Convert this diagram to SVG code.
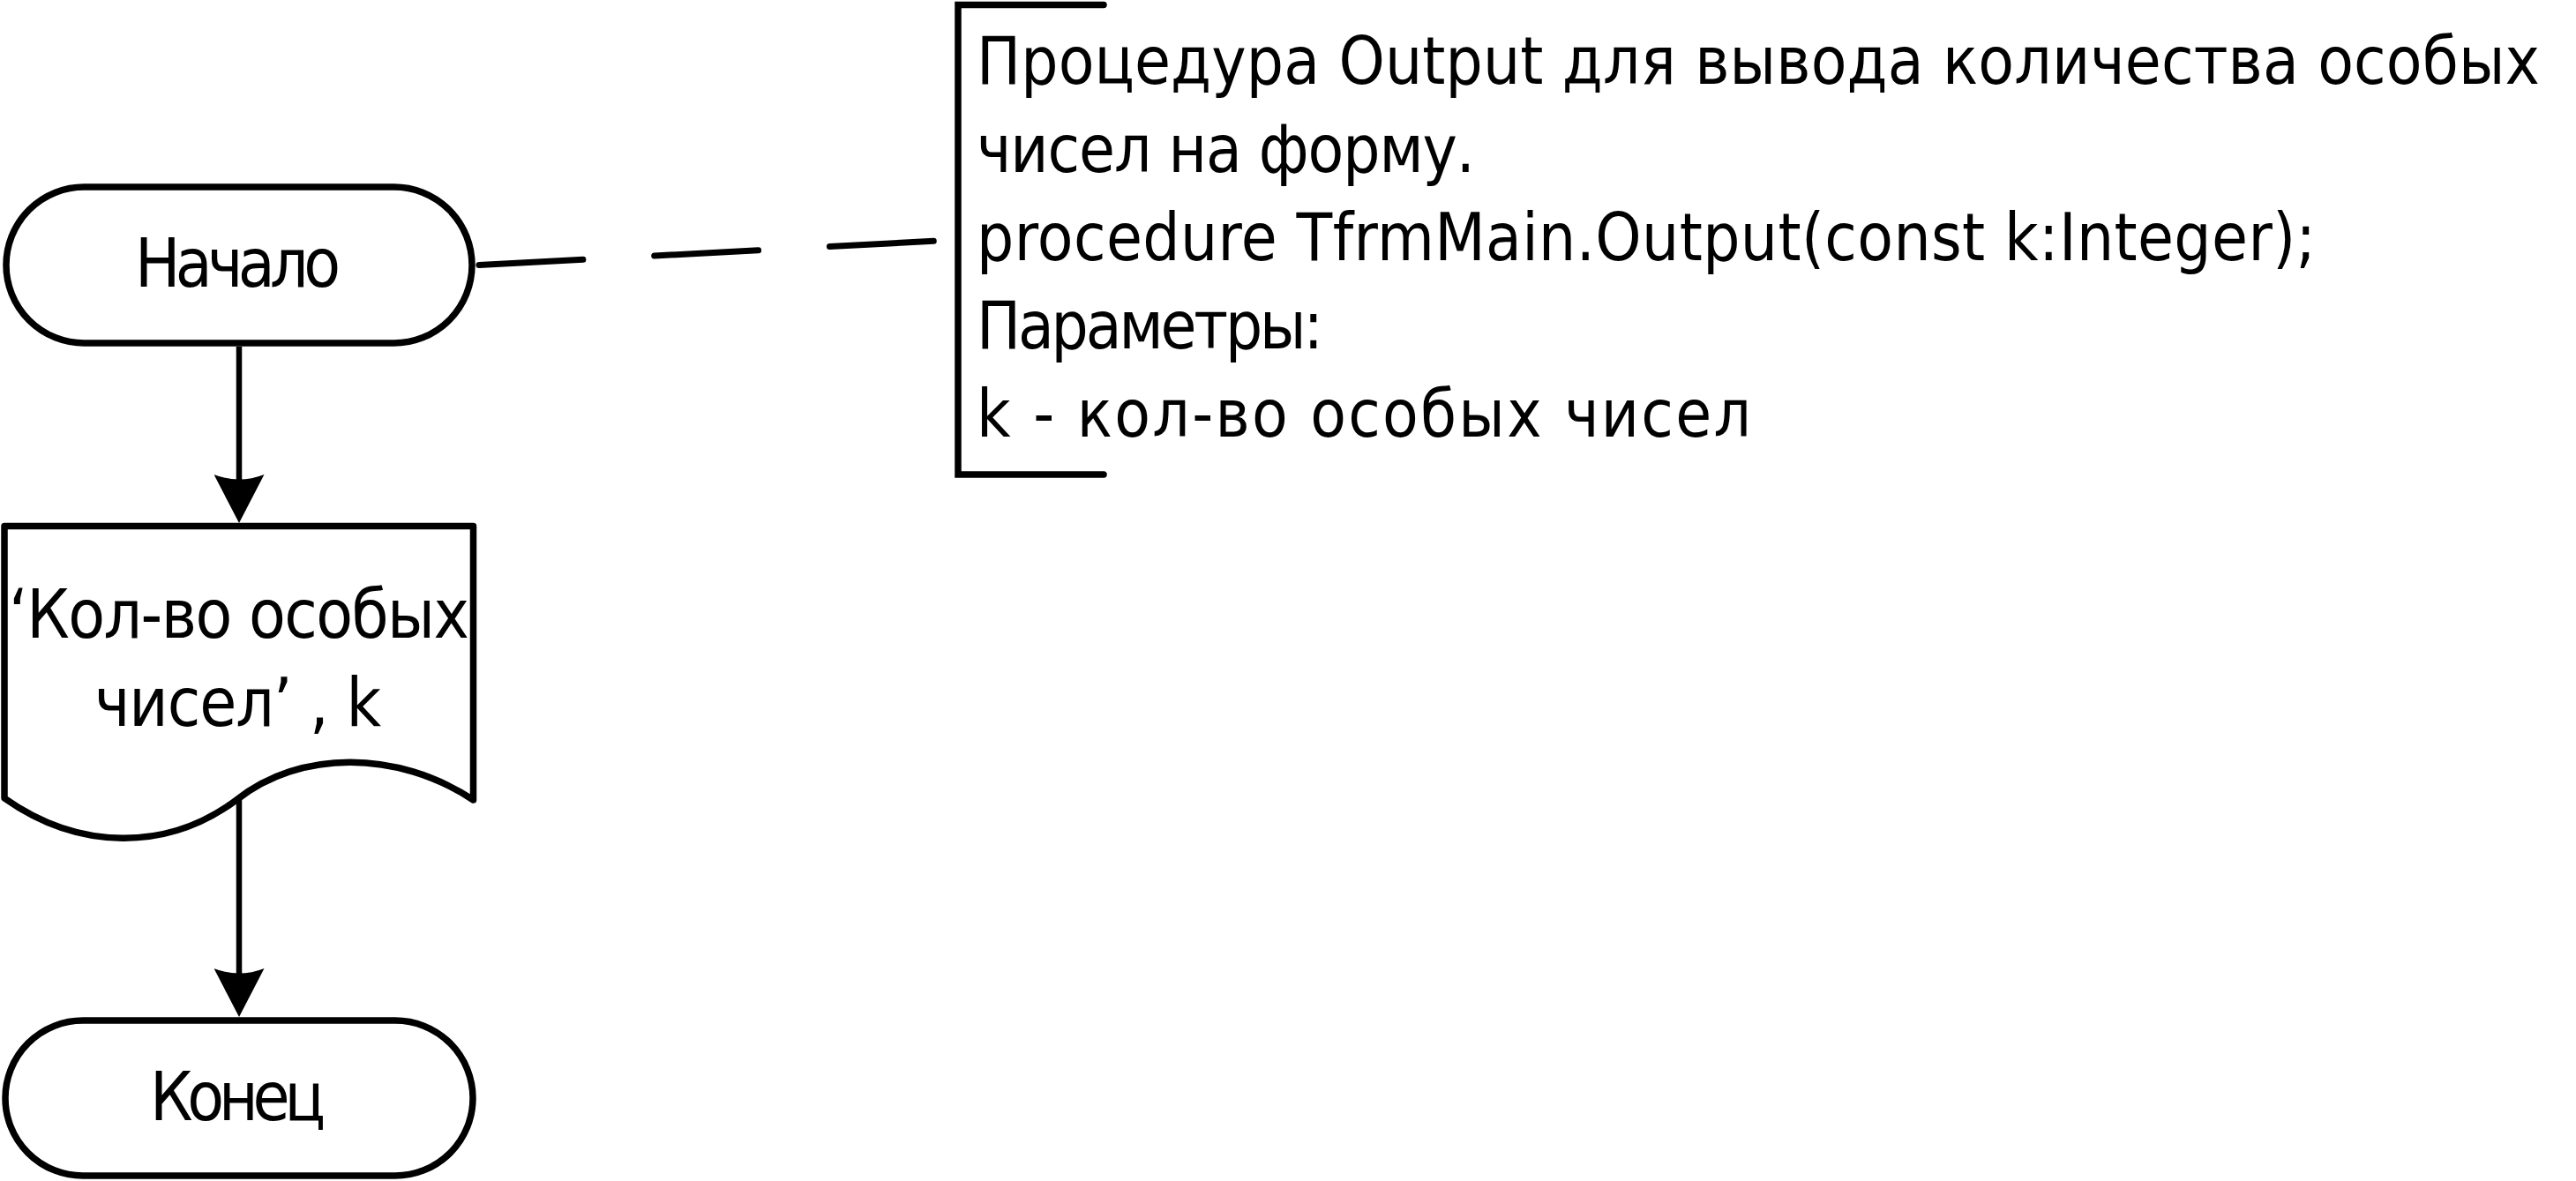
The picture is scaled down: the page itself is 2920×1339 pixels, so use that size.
<svg xmlns="http://www.w3.org/2000/svg" width="2920" height="1339" viewBox="0 0 2920 1339">
  <style>
    .shape { fill: #ffffff; stroke: #000000; stroke-width: 7.5; stroke-linejoin: round; }
    .conn { fill: none; stroke: #000000; stroke-width: 6.5; }
    .dash { fill: none; stroke: #000000; stroke-width: 7; stroke-linecap: round; stroke-dasharray: 118 81; }
    .bracket { fill: none; stroke: #000000; stroke-width: 7.5; stroke-linecap: round; stroke-linejoin: miter; }
    .t { font-family: "Liberation Sans Narrow", "DejaVu Sans Condensed", "Liberation Sans", sans-serif; font-size: 76px; fill: #000000; }
    .c { font-family: "Liberation Sans Narrow", "DejaVu Sans Condensed", "Liberation Sans", sans-serif; font-size: 74px; fill: #000000; }
  </style>
  <defs>
    <marker id="arrow" viewBox="0 0 55 57" refX="37" refY="28.5" markerWidth="55" markerHeight="57" markerUnits="userSpaceOnUse" orient="auto">
      <path d="M0,0 L55,28.5 L0,57 Q11,28.5 0,0 Z" fill="#000000"/>
    </marker>
  </defs>
  <rect width="2920" height="1339" fill="#ffffff"/>

  <g id="connectors">
    <line class="conn" x1="271" y1="393" x2="271" y2="575" marker-end="url(#arrow)"/>
    <line class="conn" x1="271" y1="907" x2="271" y2="1135" marker-end="url(#arrow)"/>
    <line class="dash" x1="543" y1="300.5" x2="1058.5" y2="273.3"/>
  </g>

  <g id="start">
    <rect class="shape" x="7" y="212" width="528" height="177" rx="88.5" ry="88.5"/>
    <text class="t" x="153" y="325" textLength="233" lengthAdjust="spacing">Начало</text>
  </g>

  <g id="output">
    <path class="shape" d="M5,596.5 L536.5,596.5 L536.5,907 C450,850 340,850 268,907 C190,965 90,965 5,905 Z"/>
    <text class="t" x="10" y="723" textLength="522" lengthAdjust="spacing">‘Кол-во особых</text>
    <text class="t" x="107" y="823" textLength="325" lengthAdjust="spacing">чисел’ , k</text>
  </g>

  <g id="end">
    <rect class="shape" x="6" y="1157" width="530" height="176" rx="88" ry="88"/>
    <text class="t" x="170" y="1270" textLength="199" lengthAdjust="spacing">Конец</text>
  </g>

  <g id="comment">
    <path class="bracket" d="M1251,5.5 L1086,5.5 L1086,538 L1251,538"/>
    <text class="c" x="1107" y="95" textLength="1772" lengthAdjust="spacing">Процедура Output для вывода количества особых</text>
    <text class="c" x="1107" y="195" textLength="565" lengthAdjust="spacing">чисел на форму.</text>
    <text class="c" x="1107" y="295" textLength="1518" lengthAdjust="spacing">procedure TfrmMain.Output(const k:Integer);</text>
    <text class="c" x="1107" y="395" textLength="393" lengthAdjust="spacing">Параметры:</text>
    <text class="c" x="1107" y="495" textLength="878" lengthAdjust="spacing">k - кол-во особых чисел</text>
  </g>
</svg>
